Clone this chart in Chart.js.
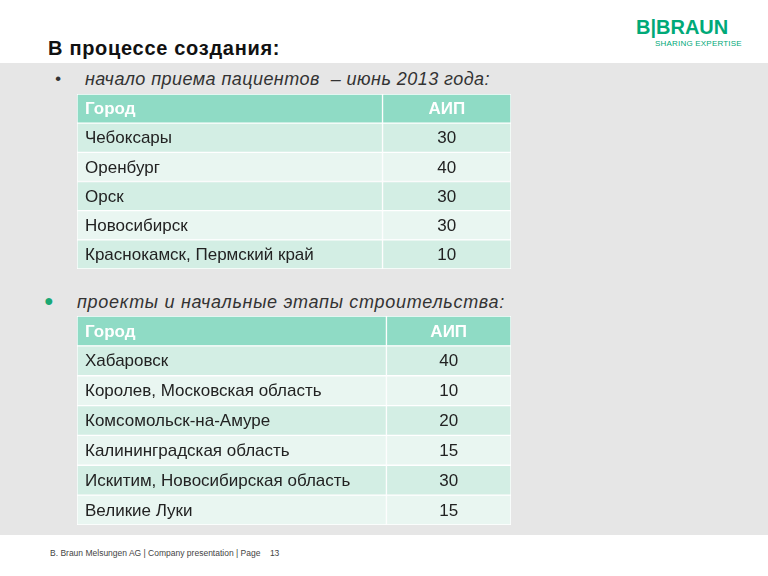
<!DOCTYPE html>
<html>
<head>
<meta charset="utf-8">
<script src="https://cdn.jsdelivr.net/npm/chart.js@4"></script>
<style>
  body { margin: 0; width: 768px; height: 576px; background: #fff; position: relative; overflow: hidden; font-family: "Liberation Sans", Arial, sans-serif; }
  .band { position: absolute; left: 0; top: 63px; width: 768px; height: 472px; background: #e6e6e6; }
  .title { position: absolute; left: 48px; top: 37px; font-size: 20px; font-weight: bold; color: #111; letter-spacing: 0.7px; }
  .logo { position: absolute; left: 636px; top: 16px; color: #00a978; font-weight: bold; font-size: 20px; }
  .logo small { position: absolute; left: 19px; top: 23px; font-size: 8px; font-weight: normal; letter-spacing: 0.2px; white-space: nowrap; }
  .bullet { position: absolute; font-style: italic; font-size: 18px; color: #333; white-space: nowrap; }
  .footer { position: absolute; left: 50px; top: 548px; font-size: 8.5px; color: #444; }
  .tbl { position: absolute; }
</style>
</head>
<body>
<div class="band"></div>
<div class="title">В процессе создания:</div>
<div class="logo">B|BRAUN<small>SHARING EXPERTISE</small></div>
<div class="bullet" style="left:55px; top:69px; font-size:17px;">•</div>
<div class="bullet" style="left:85px; top:69px; letter-spacing:0.45px;">начало приема пациентов &nbsp;– июнь 2013 года:</div>
<div class="bullet" style="left:44px; top:292px; color:#1aa874; font-style:normal; font-size:16px;">●</div>
<div class="bullet" style="left:77px; top:292px; letter-spacing:0.7px;">проекты и начальные этапы строительства:</div>
<div class="footer">B. Braun Melsungen AG | Company presentation | Page &nbsp;&nbsp;&nbsp;13</div>
<div class="tbl" style="left:77px; top:94px; width:434px; height:175px;"><canvas id="t1"></canvas></div>
<div class="tbl" style="left:77px; top:316px; width:434px; height:209px;"><canvas id="t2"></canvas></div>
<script>
const HEADER = ["Город", "АИП"];
const CITIES_1 = ["Чебоксары", "Оренбург", "Орск", "Новосибирск", "Краснокамск, Пермский край"];
const AIP_1 = [30, 40, 30, 30, 10];
const CITIES_2 = ["Хабаровск", "Королев, Московская область", "Комсомольск-на-Амуре", "Калининградская область", "Искитим, Новосибирская область", "Великие Луки"];
const AIP_2 = [40, 10, 20, 15, 30, 15];

const HEAD_COLOR = "#8fdbc5";
const ROW_DARK = "#d3eee4";
const ROW_LIGHT = "#e9f6f1";

// cell text drawn at the category centres of the y scale
const cellText = {
    id: "cellText",
    afterDatasetsDraw(chart, args, opts) {
        const ctx = chart.ctx;
        const x = chart.scales.x;
        const y = chart.scales.y;
        ctx.save();
        ctx.textBaseline = "middle";
        chart.data.labels.forEach((lab, i) => {
            const py = y.getPixelForValue(i) + 1;
            const head = i === 0;
            ctx.font = (head ? "bold " : "") + "17px 'Liberation Sans', Arial, sans-serif";
            ctx.fillStyle = head ? "#ffffff" : "#222222";
            ctx.textAlign = "left";
            ctx.fillText(lab, x.getPixelForValue(0) + 8, py);
            ctx.textAlign = "center";
            const v = head ? HEADER[1] : String(opts.values[i - 1]);
            ctx.fillText(v, x.getPixelForValue((opts.split + 100) / 2), py);
        });
        ctx.restore();
    },
};

function makeTable(id, cities, values, split) {
    const labels = [HEADER[0]].concat(cities);
    const colors = labels.map((l, i) => (i === 0 ? HEAD_COLOR : i % 2 ? ROW_DARK : ROW_LIGHT));
    return new Chart(document.getElementById(id), {
        type: "bar",
        data: {
            labels: labels,
            datasets: [
                { data: labels.map(() => [0, split]), backgroundColor: colors },
                { data: labels.map(() => [split, 100]), backgroundColor: colors },
            ],
        },
        options: {
            indexAxis: "y",
            responsive: true,
            maintainAspectRatio: false,
            animation: false,
            layout: { padding: 0 },
            datasets: {
                bar: {
                    barPercentage: 1,
                    categoryPercentage: 1,
                    grouped: false,
                    borderColor: "#ffffff",
                    borderWidth: 1,
                    borderSkipped: false,
                },
            },
            scales: {
                x: { type: "linear", min: 0, max: 100, display: false },
                y: { display: false },
            },
            plugins: {
                legend: { display: false },
                tooltip: { enabled: false },
                cellText: { values: values, split: split },
            },
        },
        plugins: [cellText],
    });
}

makeTable("t1", CITIES_1, AIP_1, 70.4);
makeTable("t2", CITIES_2, AIP_2, 71.3);
</script>
</body>
</html>
